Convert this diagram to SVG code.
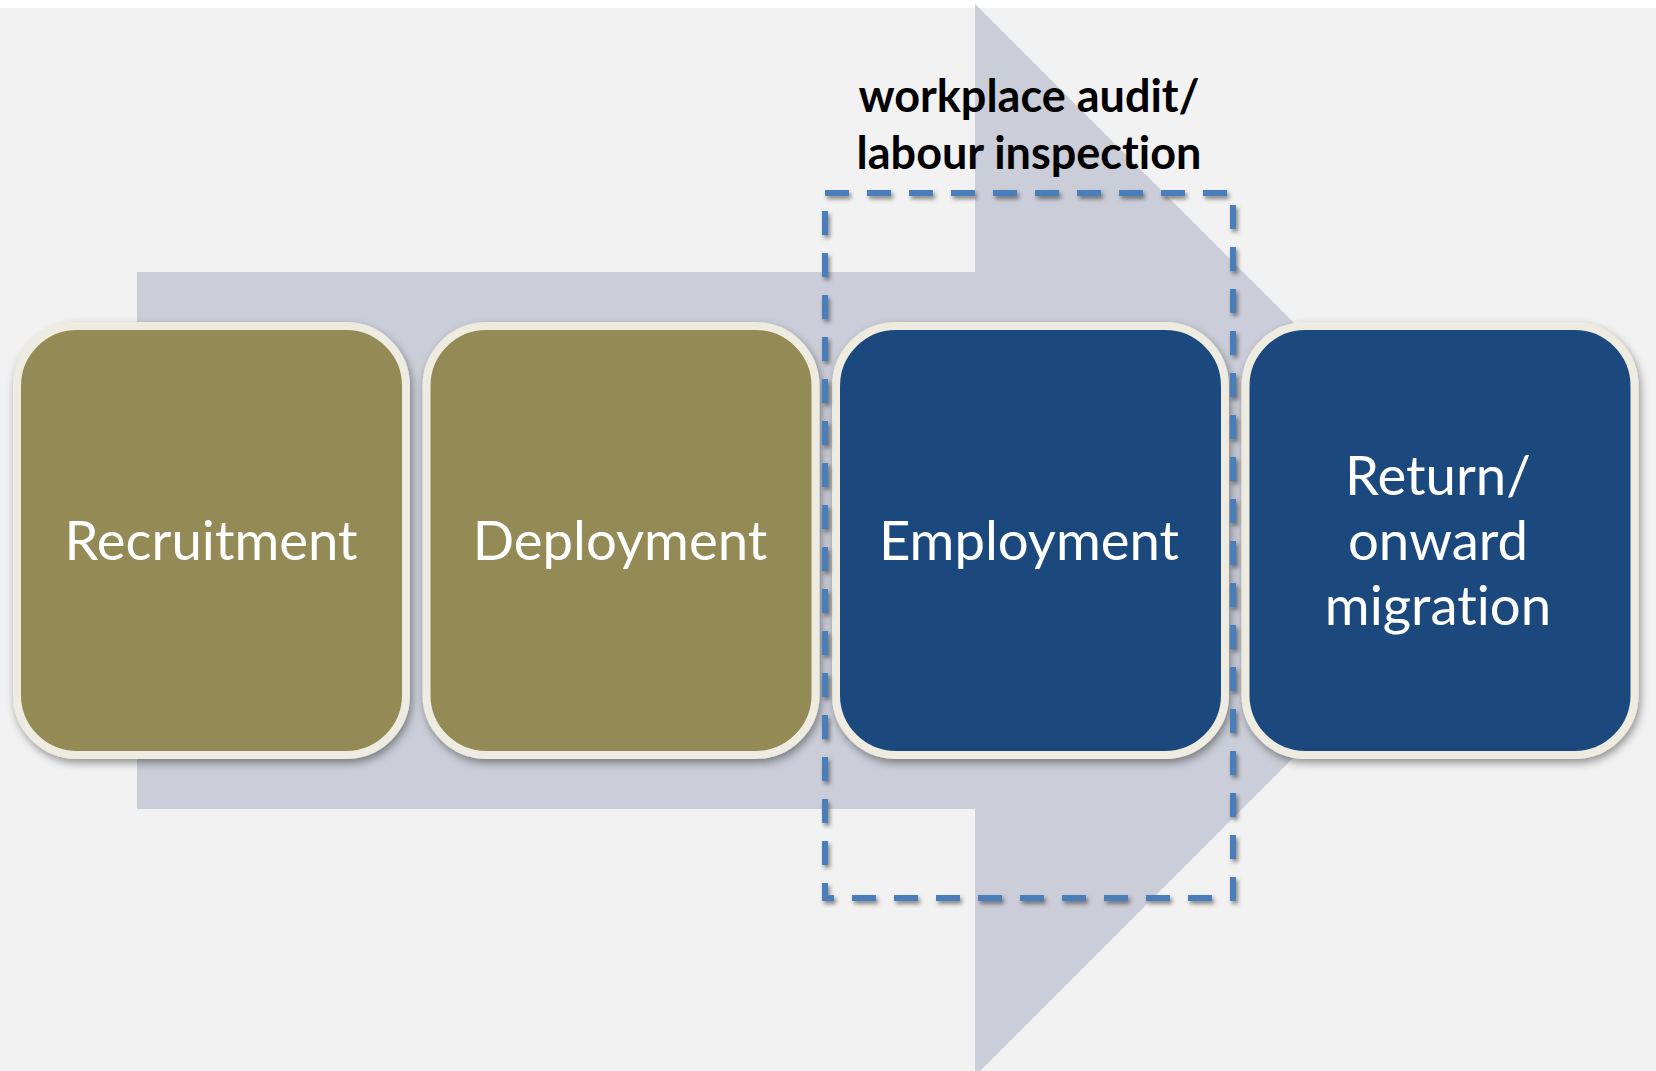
<svg xmlns="http://www.w3.org/2000/svg" width="1656" height="1071" viewBox="0 0 1656 1071">
  <style>
    .box { stroke: #EEECE1; stroke-width: 8; filter: url(#shadow); }
    .olive { fill: #948A54; }
    .blue { fill: #1F497D; }
    .lbl { font-family: Lato, "Open Sans", sans-serif; font-size: 54.5px; fill: #FFFFFF; text-anchor: middle; font-variant-ligatures: none; }
    .note { font-family: Lato, "Open Sans", sans-serif; font-size: 45px; font-weight: bold; fill: #000000; text-anchor: middle; font-variant-ligatures: none; }
    .dash { fill: none; stroke: #4A7EBB; stroke-width: 6; stroke-dasharray: 24 18; filter: url(#dshadow); }
  </style>
  <defs>
    <filter id="shadow" x="-10%" y="-10%" width="125%" height="125%">
      <feDropShadow dx="2" dy="4" stdDeviation="4" flood-color="#000000" flood-opacity="0.4"/>
    </filter>
    <filter id="dshadow" x="-5%" y="-5%" width="115%" height="115%">
      <feDropShadow dx="2" dy="3" stdDeviation="2" flood-color="#000000" flood-opacity="0.45"/>
    </filter>
  </defs>
  <rect x="0" y="0" width="1656" height="1071" fill="#FFFFFF"/>
  <rect x="0" y="8" width="1656" height="1063" fill="#F2F2F2"/>
  <g id="process-arrow">
    <polygon points="137,272 975,272 975,4 1511,540 975,1076 975,809 137,809" fill="#CBCED8"/>
  </g>
  <g id="recruitment">
    <rect class="box olive" x="17" y="326" width="389" height="429" rx="60" ry="60"/>
    <text class="lbl" x="211" y="560">Recruitment</text>
  </g>
  <g id="deployment">
    <rect class="box olive" x="426.5" y="326" width="389" height="429" rx="60" ry="60"/>
    <text class="lbl" x="620" y="560">Deployment</text>
  </g>
  <g id="employment">
    <rect class="box blue" x="836" y="326" width="389" height="429" rx="60" ry="60"/>
    <text class="lbl" x="1029" y="560">Employment</text>
  </g>
  <g id="return">
    <rect class="box blue" x="1245.5" y="326" width="389" height="429" rx="60" ry="60"/>
    <text class="lbl" x="1438" y="495">Return/</text>
    <text class="lbl" x="1438" y="560">onward</text>
    <text class="lbl" x="1438" y="625">migration</text>
  </g>
  <g id="connectors"></g>
  <g id="inspection-scope">
    <rect class="dash" x="825" y="193" width="408" height="705"/>
    <text class="note" x="1029" y="112">workplace audit/</text>
    <text class="note" x="1029" y="169">labour inspection</text>
  </g>
</svg>
